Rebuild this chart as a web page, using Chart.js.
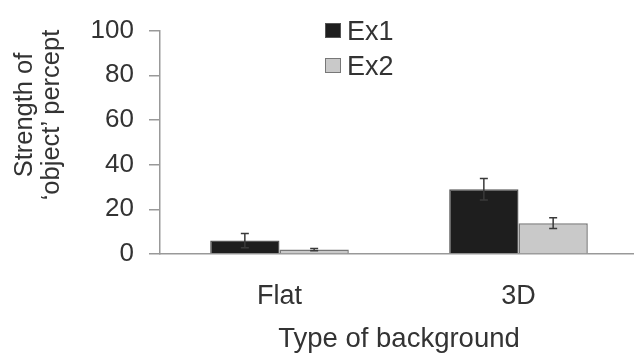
<!DOCTYPE html>
<html>
<head>
<meta charset="utf-8">
<script src="https://cdn.jsdelivr.net/npm/chart.js@4/dist/chart.umd.min.js"></script>
<style>
  html, body { margin: 0; padding: 0; background: #fff; overflow: hidden; }
  #wrap { position: relative; width: 640px; height: 356px; }
  #c { position: absolute; left: 0; top: 0; }
  .lbl { position: absolute; font-family: "Liberation Sans", Arial, sans-serif; color: #333; white-space: nowrap; }
  .box { position: absolute; width: 16px; height: 15px; box-sizing: border-box; }
  #ytitle { position: absolute; left: -63px; top: 88px; width: 200px; height: 54px; line-height: 27px; font-size: 25.5px;
            text-align: center; transform: rotate(-90deg); transform-origin: 50% 50%; }
</style>
</head>
<body>
<div id="wrap">
  <canvas id="c" width="640" height="356"></canvas>
  <div id="ytitle" class="lbl">Strength of<br>‘object’ percept</div>
  <div class="box" style="left:325px;top:23px;background:#1e1e1e;border:1px solid #555;"></div>
  <div class="lbl" style="left:347px;top:16px;font-size:27px;line-height:30px;">Ex1</div>
  <div class="box" style="left:325px;top:58px;background:#c9c9c9;border:1.5px solid #777;"></div>
  <div class="lbl" style="left:347px;top:51px;font-size:27px;line-height:30px;">Ex2</div>
</div>
<script>
const categories = ["Flat", "3D"];
const seriesNames = ["Ex1", "Ex2"];
const ex1Values = [6, 29];
const ex1Errors = [3.2, 4.8];
const ex2Values = [2, 13.8];
const ex2Errors = [0.5, 2.4];
const yTicks = [0, 20, 40, 60, 80, 100];
const xTitle = "Type of background";

const errorsByDataset = [ex1Errors, ex2Errors];

const errorBarPlugin = {
  id: 'errorBars',
  afterDatasetsDraw(chart) {
    const ctx = chart.ctx;
    const yScale = chart.scales.y;
    ctx.save();
    ctx.strokeStyle = '#3a3a3a';
    ctx.lineWidth = 1.5;
    chart.data.datasets.forEach((ds, i) => {
      const meta = chart.getDatasetMeta(i);
      meta.data.forEach((bar, j) => {
        const v = ds.data[j];
        const e = errorsByDataset[i][j];
        const x = bar.x;
        const yT = yScale.getPixelForValue(v + e);
        const yB = yScale.getPixelForValue(Math.max(0, v - e));
        const cap = 4;
        ctx.beginPath();
        ctx.moveTo(x, yT); ctx.lineTo(x, yB);
        ctx.moveTo(x - cap, yT); ctx.lineTo(x + cap, yT);
        ctx.moveTo(x - cap, yB); ctx.lineTo(x + cap, yB);
        ctx.stroke();
      });
    });
    ctx.restore();
  }
};

new Chart(document.getElementById('c'), {
  type: 'bar',
  data: {
    labels: categories,
    datasets: [
      { label: seriesNames[0], data: ex1Values, backgroundColor: '#1e1e1e', borderColor: '#555', borderWidth: 1.5,
        categoryPercentage: 0.58, barPercentage: 1.0 },
      { label: seriesNames[1], data: ex2Values, backgroundColor: '#c9c9c9', borderColor: '#777', borderWidth: 1.5,
        categoryPercentage: 0.58, barPercentage: 1.0 }
    ]
  },
  options: {
    responsive: false,
    animation: false,
    devicePixelRatio: 1,
    layout: { padding: { top: 22, right: 2, left: 0, bottom: 0 } },
    plugins: { legend: { display: false }, tooltip: { enabled: false } },
    scales: {
      x: {
        grid: { display: false, drawTicks: false },
        border: { color: '#999', width: 1.5 },
        ticks: { color: '#333', padding: 26, font: { family: '"Liberation Sans", Arial, sans-serif', size: 27 } },
        title: { display: true, text: xTitle, color: '#333', padding: { top: 0, bottom: 0 },
                 font: { family: '"Liberation Sans", Arial, sans-serif', size: 27.5 } },
        afterFit(scale) { scale.height = 102; }
      },
      y: {
        min: 0, max: 100,
        afterBuildTicks(scale) { scale.ticks = yTicks.map(v => ({ value: v })); },
        grid: { drawOnChartArea: false, drawTicks: true, tickLength: 11, color: '#999', lineWidth: 1.5 },
        border: { color: '#999', width: 1.5 },
        ticks: { color: '#333', padding: 15, font: { family: '"Liberation Sans", Arial, sans-serif', size: 26 } },
        afterFit(scale) { scale.width = 160; }
      }
    }
  },
  plugins: [errorBarPlugin]
});
</script>
</body>
</html>
